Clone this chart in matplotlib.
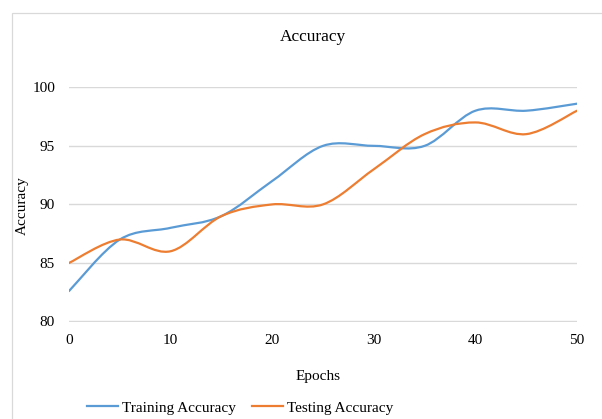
import matplotlib
matplotlib.use("Agg")
import matplotlib.pyplot as plt
import numpy as np
from matplotlib.path import Path
from matplotlib.patches import PathPatch, Rectangle
from matplotlib.lines import Line2D

epochs = [0, 5, 10, 15, 20, 25, 30, 35, 40, 45, 50]
training_acc = [82.6, 87.0, 88.0, 89.0, 92.0, 95.0, 95.0, 95.0, 98.0, 98.0, 98.6]
testing_acc = [85.0, 87.0, 86.0, 89.0, 90.0, 90.0, 93.0, 96.0, 97.0, 96.0, 98.0]
series_names = ["Training Accuracy", "Testing Accuracy"]
y_ticks = [80, 85, 90, 95, 100]
x_ticks = [0, 10, 20, 30, 40, 50]

blue = "#5B9BD5"
orange = "#ED7D31"
grid_color = "#D9D9D9"


def smooth_path(xs, ys):
    # excel style smoothed line: cubic bezier segments (catmull-rom control points)
    pts = np.column_stack([xs, ys]).astype(float)
    ext = np.vstack([pts[0], pts, pts[-1]])
    verts = [tuple(pts[0])]
    codes = [Path.MOVETO]
    for i in range(len(pts) - 1):
        p0, p1, p2, p3 = ext[i], ext[i + 1], ext[i + 2], ext[i + 3]
        c1 = p1 + (p2 - p0) / 6.0
        c2 = p2 - (p3 - p1) / 6.0
        verts += [tuple(c1), tuple(c2), tuple(p2)]
        codes += [Path.CURVE4] * 3
    return Path(verts, codes)


def main() -> None:
    plt.rcParams['font.family'] = ['Liberation Serif', 'DejaVu Serif']
    W, H = 602, 419
    fig = plt.figure(figsize=(W / 100, H / 100), dpi=100)

    # chart area border (runs off the right and bottom edges)
    fig.patches.append(Rectangle((11.5 / W, -0.2), 1.2, 1 - 13.3 / H + 0.2,
                                 transform=fig.transFigure, fill=False,
                                 edgecolor=grid_color, linewidth=0.9))

    ax = fig.add_axes([69 / W, 1 - 321.5 / H, (577 - 69) / W, (321.5 - 87.3) / H])
    ax.set_xlim(0, 50)
    ax.set_ylim(80, 100)
    ax.set_yticks(y_ticks)
    ax.set_xticks(x_ticks)
    for s in ax.spines.values():
        s.set_visible(False)
    ax.grid(axis='y', color=grid_color, linewidth=1.0)
    ax.set_axisbelow(True)
    ax.tick_params(length=0, labelsize=11, colors='black')
    ax.tick_params(axis='y', pad=10)
    ax.tick_params(axis='x', pad=9)

    for ys, c in [(training_acc, blue), (testing_acc, orange)]:
        ax.add_patch(PathPatch(smooth_path(epochs, ys), fill=False,
                               edgecolor=c, linewidth=1.6, capstyle='round'))

    fig.text(313 / W, 1 - 37 / H, "Accuracy", fontsize=12.5, ha='center', va='center')
    fig.text(318 / W, 1 - 376 / H, "Epochs", fontsize=11, ha='center', va='center')
    fig.text(22 / W, 1 - 206 / H, "Accuracy", fontsize=11, ha='center', va='center',
             rotation=90)

    handles = [Line2D([], [], color=blue, linewidth=1.6),
               Line2D([], [], color=orange, linewidth=1.6)]
    fig.legend(handles, series_names, loc='center', bbox_to_anchor=(240.5 / W, 1 - 407.7 / H),
               ncol=2, frameon=False, fontsize=11, handlelength=2.0,
               handletextpad=0.3, columnspacing=1.05, borderpad=0, borderaxespad=0)

    fig.savefig("out.png", dpi=100)


if __name__ == "__main__":
    main()
